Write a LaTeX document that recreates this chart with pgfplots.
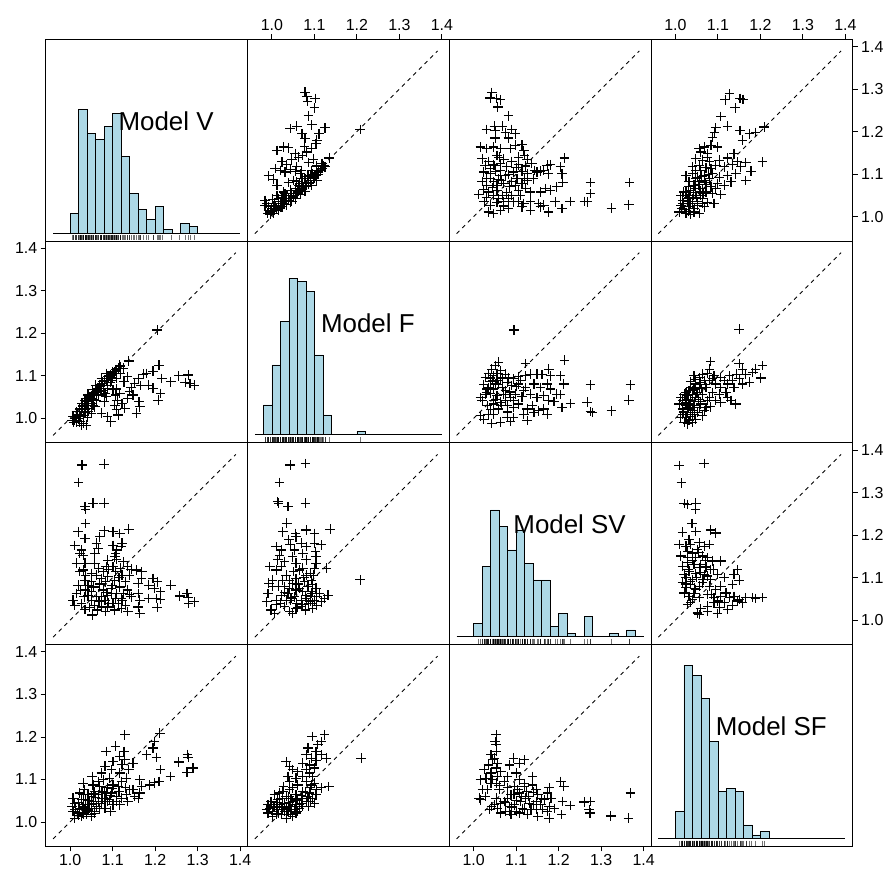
\documentclass[border=0pt]{standalone}
\usepackage{fontspec}
\setmainfont{Liberation Sans}
\usepackage{pgfplots}
\usepackage{pgfplotstable}
\pgfplotsset{compat=1.18}
\definecolor{histblue}{HTML}{ADD8E6}

% Model F (x) against Model V (y)
\pgfplotstableread{
x y
1.078 1.293
1.082 1.282
1.084 1.271
1.102 1.278
1.100 1.256
1.086 1.237
1.043 1.207
1.059 1.213
1.094 1.216
1.125 1.209
1.071 1.195
1.078 1.184
1.111 1.195
1.106 1.180
1.208 1.205
1.012 1.156
1.027 1.164
1.039 1.162
1.077 1.166
1.094 1.160
1.104 1.172
1.055 1.148
1.063 1.140
1.072 1.144
1.082 1.152
1.024 1.129
1.035 1.122
1.047 1.135
1.059 1.117
1.069 1.109
1.086 1.127
1.098 1.135
1.106 1.119
1.118 1.125
1.135 1.138
1.125 1.117
1.008 1.113
1.020 1.109
1.031 1.105
1.043 1.111
1.055 1.107
1.067 1.101
1.094 1.109
0.992 1.096
1.004 1.088
1.012 1.074
1.039 1.080
1.051 1.085
1.063 1.074
1.078 1.089
1.090 1.097
1.106 1.104
1.114 1.109
0.984 1.038
0.988 1.031
0.992 1.023
0.996 1.011
1.002 1.041
1.012 1.050
1.024 1.044
1.031 1.054
1.043 1.062
1.055 1.066
1.071 1.072
1.086 1.080
1.098 1.089
1.110 1.099
0.992 1.015
1.000 1.019
1.008 1.023
1.016 1.027
1.020 1.035
1.027 1.030
1.031 1.038
1.039 1.042
1.047 1.050
1.051 1.045
1.059 1.054
1.063 1.061
1.071 1.064
1.075 1.070
1.082 1.074
1.086 1.077
1.090 1.085
1.098 1.091
1.102 1.096
1.110 1.105
1.118 1.113
1.016 1.015
1.024 1.023
1.035 1.028
1.043 1.035
1.004 1.007
0.996 1.005
1.055 1.042
1.067 1.052
1.078 1.060
1.094 1.074
1.106 1.085
1.035 1.050
1.047 1.036
1.006 1.031
0.984 1.027
1.016 1.042
1.027 1.058
1.059 1.082
1.071 1.089
1.122 1.119
1.000 1.012
1.010 1.018
1.020 1.022
1.030 1.030
1.040 1.038
1.050 1.048
1.060 1.058
1.070 1.066
1.080 1.070
1.090 1.080
1.100 1.092
1.108 1.100
1.115 1.108
0.990 1.008
1.005 1.025
1.015 1.035
1.045 1.055
1.065 1.078
1.085 1.095
1.095 1.100
}\tabA

% Model SV (x) against Model V (y)
\pgfplotstableread{
x y
1.043 1.292
1.039 1.279
1.053 1.278
1.063 1.275
1.057 1.258
1.082 1.237
1.030 1.205
1.049 1.213
1.051 1.203
1.067 1.213
1.075 1.198
1.090 1.205
1.098 1.195
1.051 1.185
1.082 1.185
1.016 1.164
1.031 1.160
1.047 1.164
1.063 1.160
1.086 1.160
1.098 1.168
1.114 1.169
1.118 1.156
1.020 1.136
1.035 1.130
1.055 1.144
1.071 1.135
1.106 1.140
1.120 1.144
1.126 1.135
1.214 1.138
1.027 1.121
1.047 1.122
1.063 1.125
1.078 1.117
1.106 1.122
1.122 1.119
1.137 1.125
1.143 1.109
1.157 1.107
1.173 1.121
1.181 1.122
1.204 1.117
1.024 1.105
1.039 1.101
1.051 1.107
1.063 1.097
1.082 1.099
1.094 1.105
1.114 1.107
1.126 1.101
1.149 1.105
1.165 1.109
1.176 1.101
1.208 1.101
1.210 1.080
1.275 1.080
1.367 1.080
1.020 1.083
1.031 1.089
1.047 1.082
1.059 1.088
1.071 1.078
1.090 1.083
1.102 1.089
1.114 1.078
1.126 1.085
1.141 1.089
1.169 1.066
1.181 1.062
1.196 1.070
1.012 1.052
1.024 1.064
1.035 1.058
1.055 1.062
1.067 1.050
1.078 1.056
1.090 1.050
1.106 1.062
1.122 1.067
1.134 1.058
1.157 1.058
1.275 1.054
1.267 1.035
1.025 1.035
1.039 1.027
1.055 1.033
1.071 1.036
1.082 1.042
1.094 1.035
1.106 1.036
1.118 1.031
1.134 1.035
1.153 1.031
1.165 1.027
1.176 1.011
1.192 1.035
1.208 1.019
1.227 1.036
1.261 1.036
1.324 1.020
1.365 1.028
1.035 1.011
1.047 1.007
1.063 1.015
1.082 1.019
1.134 1.015
1.114 1.023
1.157 1.023
1.031 1.074
1.055 1.074
1.063 1.109
1.039 1.113
1.075 1.097
1.098 1.074
1.059 1.042
1.047 1.050
1.040 1.090
1.050 1.120
1.060 1.140
1.045 1.068
1.065 1.085
1.085 1.070
1.100 1.115
1.110 1.050
1.070 1.025
1.030 1.045
1.090 1.130
1.120 1.090
}\tabB

% Model SF (x) against Model V (y)
\pgfplotstableread{
x y
1.127 1.289
1.117 1.275
1.152 1.278
1.159 1.276
1.141 1.256
1.107 1.236
1.095 1.209
1.123 1.213
1.092 1.198
1.152 1.203
1.174 1.195
1.189 1.198
1.209 1.211
1.087 1.187
1.158 1.180
1.068 1.164
1.084 1.168
1.099 1.164
1.060 1.152
1.076 1.148
1.138 1.148
1.048 1.136
1.064 1.133
1.080 1.130
1.103 1.133
1.123 1.138
1.146 1.129
1.166 1.127
1.205 1.129
1.040 1.117
1.056 1.121
1.072 1.115
1.095 1.121
1.115 1.117
1.135 1.122
1.154 1.117
1.178 1.107
1.025 1.096
1.040 1.101
1.052 1.093
1.068 1.097
1.087 1.101
1.103 1.093
1.123 1.097
1.142 1.101
1.166 1.085
1.032 1.082
1.044 1.074
1.056 1.082
1.072 1.075
1.084 1.070
1.099 1.078
1.115 1.074
1.131 1.082
1.013 1.050
1.025 1.058
1.036 1.062
1.048 1.056
1.060 1.050
1.072 1.058
1.087 1.054
1.107 1.052
1.017 1.038
1.029 1.035
1.040 1.042
1.052 1.036
1.064 1.042
1.076 1.033
1.091 1.031
1.013 1.027
1.021 1.017
1.032 1.023
1.044 1.011
1.056 1.007
1.009 1.011
1.025 1.007
1.036 1.005
1.048 1.066
1.064 1.066
1.080 1.089
1.060 1.109
1.048 1.109
1.032 1.046
1.052 1.027
1.068 1.023
1.017 1.050
1.031 1.070
1.095 1.066
1.068 1.085
1.084 1.113
1.076 1.140
1.056 1.160
1.017 1.031
1.040 1.031
1.064 1.031
1.048 1.089
1.015 1.020
1.020 1.030
1.028 1.042
1.035 1.030
1.042 1.050
1.050 1.045
1.058 1.060
1.066 1.055
1.020 1.058
1.030 1.012
1.045 1.020
1.055 1.075
1.070 1.080
1.062 1.095
1.078 1.100
}\tabC

% Model SV (x) against Model F (y)
\pgfplotstableread{
x y
1.095 1.208
1.122 1.129
1.214 1.137
1.059 1.132
1.051 1.124
1.043 1.116
1.063 1.112
1.055 1.106
1.075 1.104
1.028 1.096
1.040 1.095
1.047 1.100
1.063 1.093
1.083 1.096
1.094 1.093
1.106 1.098
1.122 1.100
1.134 1.104
1.149 1.104
1.161 1.103
1.177 1.116
1.181 1.100
1.204 1.100
1.212 1.081
1.275 1.079
1.369 1.079
1.024 1.079
1.036 1.073
1.051 1.081
1.067 1.073
1.079 1.085
1.090 1.077
1.106 1.081
1.122 1.073
1.142 1.081
1.157 1.073
1.173 1.081
1.196 1.057
1.016 1.049
1.028 1.057
1.040 1.059
1.055 1.053
1.071 1.057
1.087 1.049
1.098 1.057
1.114 1.051
1.134 1.057
1.149 1.049
1.165 1.053
1.177 1.043
1.189 1.040
1.204 1.056
1.365 1.043
1.267 1.038
1.275 1.016
1.279 1.014
1.324 1.018
1.228 1.035
1.208 1.026
1.016 1.006
1.024 0.998
1.036 1.010
1.043 0.988
1.063 0.991
1.079 1.002
1.087 0.993
1.094 1.002
1.126 0.995
1.032 1.030
1.047 1.034
1.063 1.038
1.079 1.030
1.094 1.026
1.106 1.034
1.126 1.022
1.138 1.030
1.153 1.018
1.165 1.022
1.173 1.010
1.142 1.014
1.020 1.042
1.047 1.043
1.075 1.042
1.094 1.042
1.055 1.090
1.040 1.086
1.032 1.069
1.075 1.065
1.047 1.069
1.118 1.065
1.181 1.069
1.059 1.022
1.118 1.010
1.047 1.010
1.035 1.105
1.045 1.090
1.058 1.080
1.068 1.095
1.030 1.060
1.052 1.045
1.085 1.062
1.100 1.075
1.110 1.090
1.065 1.030
1.040 1.020
1.080 1.015
}\tabD

% Model SF (x) against Model F (y)
\pgfplotstableread{
x y
1.150 1.210
1.083 1.134
1.150 1.129
1.205 1.124
1.201 1.095
1.080 1.116
1.044 1.100
1.064 1.104
1.076 1.106
1.091 1.100
1.107 1.096
1.127 1.100
1.144 1.104
1.158 1.116
1.166 1.104
1.182 1.108
1.189 1.116
1.174 1.085
1.158 1.081
1.138 1.073
1.123 1.081
1.107 1.073
1.095 1.081
1.048 1.081
1.060 1.085
1.036 1.073
1.072 1.073
1.123 1.049
1.107 1.038
1.142 1.034
1.095 1.042
1.080 1.049
1.064 1.057
1.052 1.061
1.040 1.057
1.029 1.053
1.017 1.043
1.009 1.034
1.025 1.038
1.036 1.042
1.048 1.049
1.060 1.034
1.072 1.026
1.083 1.027
1.017 1.022
1.029 1.026
1.040 1.018
1.052 1.014
1.064 1.006
1.017 1.010
1.025 1.002
1.032 0.995
1.040 0.991
1.029 0.987
1.048 0.998
1.013 1.002
1.021 0.991
1.040 1.010
1.056 1.026
1.032 1.034
1.021 1.057
1.032 1.065
1.044 1.069
1.056 1.073
1.068 1.089
1.087 1.093
1.048 1.091
1.056 1.096
1.036 1.087
1.103 1.057
1.087 1.061
1.119 1.061
1.076 1.042
1.131 1.042
1.013 1.049
1.029 1.014
1.044 1.030
1.068 1.018
1.115 1.089
1.134 1.089
1.150 1.093
1.020 1.015
1.025 1.030
1.035 1.022
1.045 1.040
1.055 1.045
1.030 1.045
1.040 1.065
1.050 1.060
1.062 1.070
1.070 1.080
1.035 1.005
1.045 1.010
1.080 1.090
1.060 1.040
1.025 1.060
}\tabE

% Model SF (x) against Model SV (y)
\pgfplotstableread{
x y
1.009 1.364
1.068 1.369
1.014 1.323
1.021 1.274
1.029 1.272
1.048 1.275
1.047 1.260
1.039 1.227
1.017 1.207
1.048 1.209
1.083 1.212
1.095 1.205
1.032 1.190
1.009 1.178
1.025 1.174
1.036 1.178
1.056 1.182
1.068 1.174
1.080 1.178
1.029 1.162
1.040 1.158
1.052 1.166
1.064 1.151
1.076 1.147
1.087 1.139
1.107 1.139
1.017 1.127
1.029 1.135
1.044 1.131
1.056 1.123
1.072 1.125
1.083 1.119
1.099 1.107
1.146 1.119
1.021 1.107
1.032 1.115
1.048 1.110
1.060 1.113
1.076 1.104
1.115 1.100
1.138 1.107
1.150 1.094
1.134 1.084
1.017 1.088
1.025 1.076
1.036 1.084
1.048 1.072
1.064 1.088
1.080 1.080
1.095 1.072
1.107 1.080
1.021 1.064
1.032 1.056
1.044 1.063
1.056 1.053
1.076 1.060
1.091 1.053
1.107 1.056
1.119 1.064
1.127 1.053
1.138 1.056
1.150 1.049
1.166 1.053
1.182 1.053
1.205 1.053
1.189 1.051
1.029 1.037
1.036 1.042
1.060 1.027
1.076 1.033
1.091 1.041
1.103 1.029
1.115 1.041
1.134 1.035
1.146 1.045
1.052 1.017
1.056 1.013
1.076 1.021
1.099 1.016
1.123 1.025
1.158 1.041
1.040 1.096
1.029 1.147
1.048 1.147
1.013 1.151
1.068 1.107
1.083 1.096
1.025 1.100
1.056 1.080
1.040 1.049
1.030 1.120
1.040 1.140
1.050 1.100
1.060 1.130
1.035 1.090
1.045 1.075
1.065 1.095
1.025 1.085
1.055 1.160
1.070 1.140
1.090 1.120
1.085 1.060
1.100 1.045
}\tabF

\pgfplotsset{
  panel/.style={
    anchor=south west, scale only axis,
    width=201.75bp, height=201.75bp,
    xmin=0.9426, xmax=1.4173, ymin=0.9426, ymax=1.4173,
    xtick=\empty, ytick=\empty,
    axis line style={line width=0.8bp},
    tick align=outside, major tick length=5bp,
    every tick/.style={line width=0.8bp, black},
    tick label style={font=\fontsize{16}{18}\selectfont},
  },
  diagpanel/.style={panel, ymin=-2.4, ymax=58.15},
  pts/.style={only marks, mark=+, mark size=4.8bp, line width=1.15bp, black},
  rug/.style={only marks, mark=|, mark size=2.5bp, black, opacity=0.55,
    mark options={line width=0.45bp}},
  ticksX/.style={xtick={1.0,1.1,1.2,1.3,1.4}, xticklabels={1.0,1.1,1.2,1.3,1.4}},
  ticksY/.style={ytick={1.0,1.1,1.2,1.3,1.4}, yticklabels={1.0,1.1,1.2,1.3,1.4}},
  tickT/.style={ticksX, xtick pos=right, xticklabel pos=right},
  tickB/.style={ticksX, xtick pos=left, xticklabel pos=left},
  tickL/.style={ticksY, ytick pos=left, yticklabel pos=left},
  tickR/.style={ticksY, ytick pos=right, yticklabel pos=right},
}
\newcommand{\refline}{\addplot[black, line width=0.9bp, dash pattern=on 4bp off 4bp]
  coordinates {(0.96,0.96) (1.39,1.39)};}
\newcommand{\baseline}{\addplot[black, line width=0.9bp] coordinates {(0.96,0) (1.40,0)};}
\newcommand{\diaglabel}[1]{\node[font=\fontsize{26}{30}\selectfont, xshift=19.5bp, yshift=19bp]
  at (rel axis cs:0.5,0.5) {#1};}

\begin{document}
\begin{tikzpicture}
\useasboundingbox (0,0) rectangle (888bp,874bp);

% row 1
\begin{axis}[diagpanel, at={(45.7bp,632.95bp)}]
  \addplot[ybar interval, fill=histblue, draw=black, line width=0.6bp] coordinates {
    (1.00,6) (1.02,37) (1.04,30) (1.06,28) (1.08,32) (1.10,36) (1.12,23) (1.14,12)
    (1.16,7) (1.18,4) (1.20,8) (1.22,1) (1.24,0) (1.26,3) (1.28,2) (1.30,0)};
  \baseline
  \addplot[rug] table[x=y, y expr=-1.45] {\tabA};
  \diaglabel{Model V}
\end{axis}
\begin{axis}[panel, tickT, at={(247.45bp,632.95bp)}]
  \refline
  \addplot[pts] table[x=x, y=y] {\tabA};
\end{axis}
\begin{axis}[panel, at={(449.2bp,632.95bp)}]
  \refline
  \addplot[pts] table[x=x, y=y] {\tabB};
\end{axis}
\begin{axis}[panel, tickT, tickR, at={(650.95bp,632.95bp)}]
  \refline
  \addplot[pts] table[x=x, y=y] {\tabC};
\end{axis}

% row 2
\begin{axis}[panel, tickL, at={(45.7bp,431.2bp)}]
  \refline
  \addplot[pts] table[x=y, y=x] {\tabA};
\end{axis}
\begin{axis}[diagpanel, at={(247.45bp,431.2bp)}]
  \addplot[ybar interval, fill=histblue, draw=black, line width=0.6bp] coordinates {
    (0.98,9) (1.00,21) (1.02,34) (1.04,47) (1.06,46) (1.08,43) (1.10,24) (1.12,6)
    (1.14,0) (1.16,0) (1.18,0) (1.20,1) (1.22,0)};
  \baseline
  \addplot[rug] table[x=x, y expr=-1.45] {\tabA};
  \diaglabel{Model F}
\end{axis}
\begin{axis}[panel, at={(449.2bp,431.2bp)}]
  \refline
  \addplot[pts] table[x=x, y=y] {\tabD};
\end{axis}
\begin{axis}[panel, at={(650.95bp,431.2bp)}]
  \refline
  \addplot[pts] table[x=x, y=y] {\tabE};
\end{axis}

% row 3
\begin{axis}[panel, at={(45.7bp,229.45bp)}]
  \refline
  \addplot[pts] table[x=y, y=x] {\tabB};
\end{axis}
\begin{axis}[panel, at={(247.45bp,229.45bp)}]
  \refline
  \addplot[pts] table[x=y, y=x] {\tabD};
\end{axis}
\begin{axis}[diagpanel, at={(449.2bp,229.45bp)}]
  \addplot[ybar interval, fill=histblue, draw=black, line width=0.6bp] coordinates {
    (1.00,4) (1.02,21) (1.04,38) (1.06,33) (1.08,26) (1.10,32) (1.12,22) (1.14,17)
    (1.16,17) (1.18,3) (1.20,7) (1.22,1) (1.24,0) (1.26,6) (1.28,0) (1.30,0)
    (1.32,1) (1.34,0) (1.36,2) (1.38,0)};
  \baseline
  \addplot[rug] table[x=x, y expr=-1.45] {\tabB};
  \diaglabel{Model SV}
\end{axis}
\begin{axis}[panel, tickR, at={(650.95bp,229.45bp)}]
  \refline
  \addplot[pts] table[x=x, y=y] {\tabF};
\end{axis}

% row 4
\begin{axis}[panel, tickB, tickL, at={(45.7bp,27.7bp)}]
  \refline
  \addplot[pts] table[x=y, y=x] {\tabC};
\end{axis}
\begin{axis}[panel, at={(247.45bp,27.7bp)}]
  \refline
  \addplot[pts] table[x=y, y=x] {\tabE};
\end{axis}
\begin{axis}[panel, tickB, at={(449.2bp,27.7bp)}]
  \refline
  \addplot[pts] table[x=y, y=x] {\tabF};
\end{axis}
\begin{axis}[diagpanel, at={(650.95bp,27.7bp)}]
  \addplot[ybar interval, fill=histblue, draw=black, line width=0.6bp] coordinates {
    (1.00,8) (1.02,52) (1.04,49) (1.06,42) (1.08,29) (1.10,14) (1.12,15) (1.14,14)
    (1.16,4) (1.18,1) (1.20,2) (1.22,0)};
  \baseline
  \addplot[rug] table[x=x, y expr=-1.45] {\tabC};
  \diaglabel{Model SF}
\end{axis}
\end{tikzpicture}
\end{document}
